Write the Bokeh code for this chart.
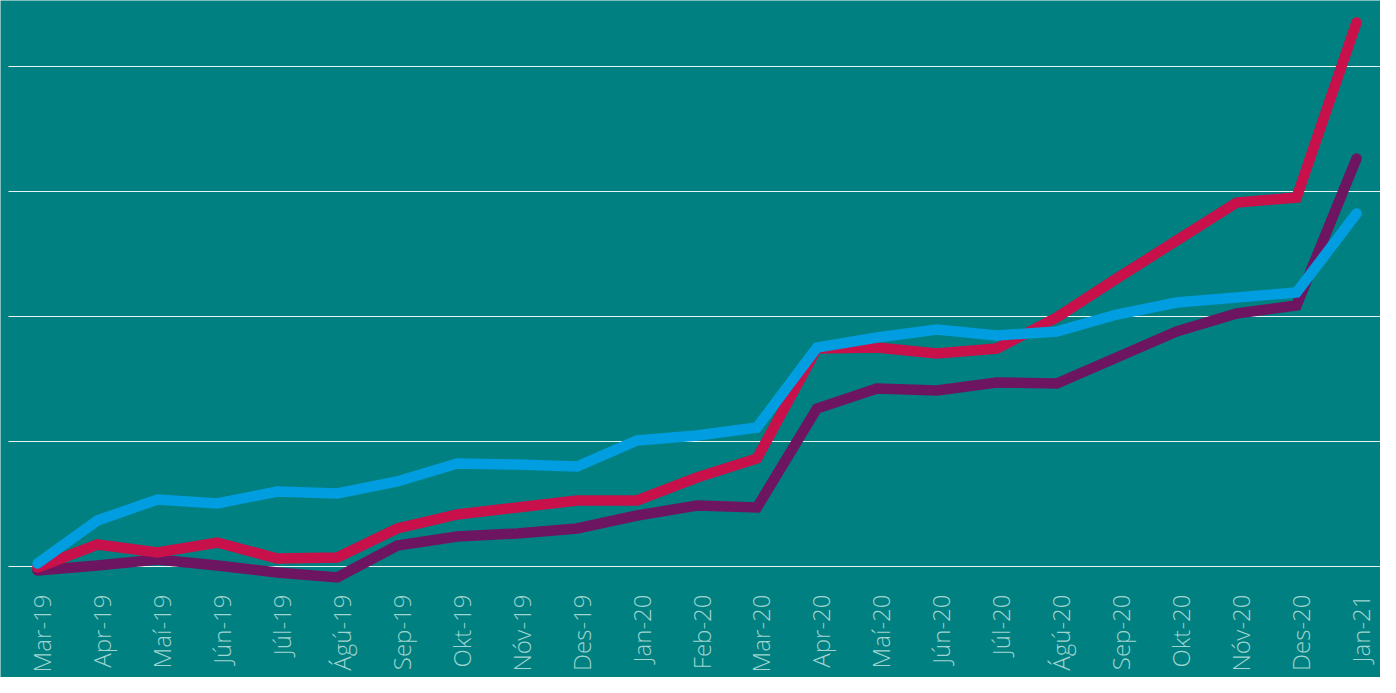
import math
from bokeh.plotting import figure
from bokeh.models import Range1d, ColumnDataSource
from bokeh.core.properties import value
from bokeh.embed import file_html
from bokeh.resources import INLINE

months = ["Mar-19", "Apr-19", "Maí-19", "Jún-19", "Júl-19", "Ágú-19", "Sep-19", "Okt-19",
          "Nóv-19", "Des-19", "Jan-20", "Feb-20", "Mar-20", "Apr-20", "Maí-20", "Jún-20",
          "Júl-20", "Ágú-20", "Sep-20", "Okt-20", "Nóv-20", "Des-20", "Jan-21"]

red_series = [-0.04, 0.88, 0.56, 0.96, 0.32, 0.36, 1.52, 2.08, 2.36, 2.64, 2.64, 3.56,
              4.32, 8.72, 8.76, 8.52, 8.72, 9.96, 11.52, 13.04, 14.56, 14.76, 21.76]
purple_series = [-0.16, 0.04, 0.28, 0.04, -0.24, -0.44, 0.84, 1.20, 1.32, 1.52, 2.04, 2.44,
                 2.36, 6.32, 7.12, 7.04, 7.36, 7.32, 8.36, 9.40, 10.12, 10.44, 16.32]
blue_series = [0.12, 1.84, 2.68, 2.52, 3.00, 2.92, 3.40, 4.12, 4.08, 4.00, 5.04, 5.24,
               5.56, 8.76, 9.16, 9.48, 9.24, 9.40, 10.08, 10.56, 10.76, 10.96, 14.12]

grid_ticks = [0, 5, 10, 15, 20]

idx = list(range(len(months)))
src = ColumnDataSource(dict(x=idx, red=red_series, purple=purple_series, blue=blue_series))

BG = "#008081"
X_START, X_END = -0.617, 22.40
Y_BOTTOM, Y_TOP = -4.44, 22.64
GRID_X0 = -0.484         # gridlines begin a little inside the left edge
LABEL_Y = -1.12          # month labels hang just under the zero line

p = figure(width=1380, height=677, output_backend="svg", toolbar_location=None,
           x_range=Range1d(X_START, X_END), y_range=Range1d(Y_BOTTOM, Y_TOP),
           background_fill_color=BG, border_fill_color=BG,
           min_border_left=0, min_border_right=0, min_border_top=0, min_border_bottom=0)
p.outline_line_color = None
p.xaxis.visible = False
p.yaxis.visible = False
p.xgrid.visible = False
p.ygrid.visible = False

grid_src = ColumnDataSource(dict(y=grid_ticks))
p.segment(x0=GRID_X0, x1=X_END, y0="y", y1="y", source=grid_src,
          line_color="#e6f4f3", line_width=1.2)

p.line("x", "purple", source=src, line_color="#6e1561", line_width=10.5, line_cap="round", line_join="miter")
p.line("x", "red", source=src, line_color="#c8104a", line_width=10.5, line_cap="round", line_join="miter")
p.line("x", "blue", source=src, line_color="#009de0", line_width=10.5, line_cap="round", line_join="miter")

lab = ColumnDataSource(dict(x=idx, y=[LABEL_Y] * len(months), t=months))
p.text("x", "y", text="t", source=lab, angle=math.pi / 2,
       text_align="right", text_baseline="middle", x_offset=4,
       text_font=value("Open Sans Light, Open Sans"), text_font_size="24px",
       text_color="#9fd4d0")

open("out.html", "w").write(file_html(p, INLINE))
